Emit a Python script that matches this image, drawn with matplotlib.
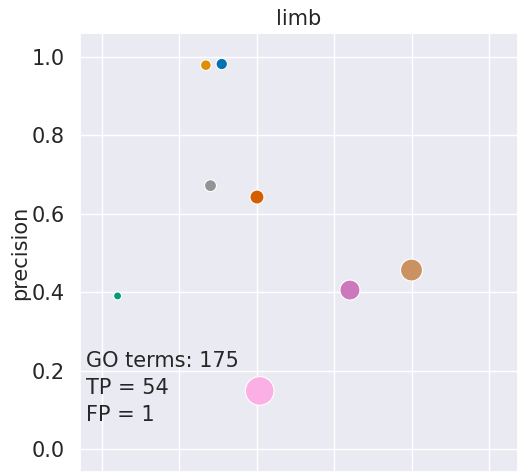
import matplotlib
matplotlib.use("Agg")
import matplotlib.pyplot as plt
import seaborn as sns

sns.set_theme(style="darkgrid")
plt.rcParams['font.family'] = ['DejaVu Sans']

# data (one point per method, colour = seaborn colorblind palette order)
methods = ["method 1", "method 2", "method 3", "method 4",
           "method 5", "method 6", "method 7", "method 8"]
recall = [0.310, 0.269, 0.041, 0.401, 0.641, 0.800, 0.408, 0.281]
precision = [0.981, 0.978, 0.390, 0.642, 0.405, 0.456, 0.148, 0.671]
marker_area = [67, 59, 33, 102, 207, 250, 425, 74]
yticks = [0.0, 0.2, 0.4, 0.6, 0.8, 1.0]
xticks = [0.0, 0.2, 0.4, 0.6, 0.8, 1.0]
title = "limb"
ylabel = "precision"
annotation = "GO terms: 175\nTP = 54\nFP = 1"

colors = sns.color_palette("colorblind", len(methods))

W, H = 518, 472
fig = plt.figure(figsize=(W / 100, H / 100), dpi=100)
left_px, right_px, top_px, bottom_px = 80, 518, 33, 472
ax = fig.add_axes([left_px / W, (H - bottom_px) / H,
                   (right_px - left_px) / W, (bottom_px - top_px) / H])

ax.scatter(recall, precision, s=marker_area, c=colors,
           edgecolors="white", linewidths=0.8, zorder=3)

ax.set_xlim(-0.056, 1.075)
ax.set_ylim(-0.0586, 1.060)
ax.set_xticks(xticks)
ax.set_yticks(yticks)
ax.tick_params(axis="x", labelbottom=False, length=0)
ax.tick_params(axis="y", labelsize=15, length=0, pad=11, labelcolor="#262626")
ax.set_ylabel(ylabel, fontsize=15, color="#262626", labelpad=1)
ax.set_title(title, fontsize=15, color="#262626", pad=6)
ax.text(-0.041, 0.060, annotation, fontsize=15, color="#262626",
        ha="left", va="bottom", linespacing=1.45, zorder=4)

fig.savefig("out.png", dpi=100)
